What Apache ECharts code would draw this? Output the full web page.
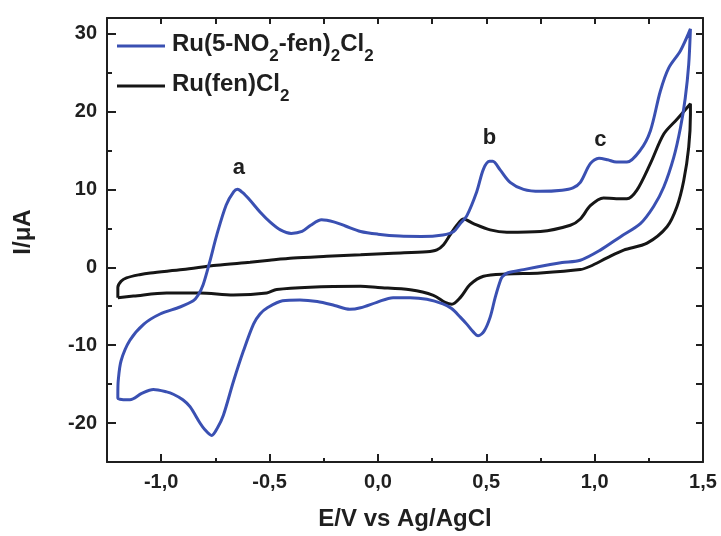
<!DOCTYPE html>
<html>
<head>
<meta charset="utf-8">
<script src="https://cdn.jsdelivr.net/npm/echarts@6/dist/echarts.min.js"></script>
<style>
  html, body { margin: 0; padding: 0; background: #fff; }
  #chart { width: 721px; height: 536px; }
</style>
</head>
<body>
<div id="chart"></div>
<script>
// Cyclic voltammograms: [E (V vs Ag/AgCl), I (µA)] in scan order
// (anodic sweep from -1.2 V to the vertex, then the cathodic return).
const nitroName = 'Ru(5-NO2-fen)2Cl2';
const nitroCurve = [
  [-1.200, -16.4], [-1.198, -14.5], [-1.185, -12.0], [-1.145, -9.4], [-1.080, -7.3],
  [-1.005, -6.0], [-0.913, -5.1], [-0.852, -4.3], [-0.830, -3.6], [-0.806, -2.2],
  [-0.775, 0.8], [-0.744, 4.1], [-0.700, 8.0], [-0.665, 9.7], [-0.648, 10.0],
  [-0.625, 9.6], [-0.590, 8.6], [-0.544, 7.1], [-0.497, 5.8], [-0.450, 4.8],
  [-0.400, 4.35], [-0.350, 4.6], [-0.310, 5.4], [-0.260, 6.1], [-0.200, 5.8],
  [-0.150, 5.3], [-0.080, 4.6], [0.000, 4.25], [0.100, 4.0], [0.200, 3.95],
  [0.300, 4.15], [0.350, 4.6], [0.380, 5.6], [0.410, 6.6], [0.456, 9.7],
  [0.487, 12.6], [0.515, 13.6], [0.530, 13.6], [0.564, 12.5], [0.610, 10.9],
  [0.672, 10.0], [0.750, 9.75], [0.850, 9.9], [0.900, 10.2], [0.934, 10.9],
  [0.980, 13.3], [1.020, 14.0], [1.060, 13.8], [1.100, 13.5], [1.149, 13.5],
  [1.210, 15.0], [1.257, 17.5], [1.303, 22.6], [1.342, 25.6], [1.396, 27.8],
  [1.442, 30.6],
  [1.434, 26.0], [1.418, 21.7], [1.396, 17.9], [1.365, 14.1], [1.319, 10.3],
  [1.272, 7.8], [1.211, 5.6], [1.118, 3.9], [1.026, 2.2], [0.934, 0.9],
  [0.850, 0.6], [0.795, 0.35], [0.672, -0.3], [0.600, -0.7], [0.575, -1.2],
  [0.564, -1.8], [0.541, -3.9], [0.518, -6.4], [0.490, -8.2], [0.462, -8.8],
  [0.440, -8.3], [0.410, -7.3], [0.380, -6.4], [0.340, -5.3], [0.300, -4.7],
  [0.226, -4.1], [0.149, -3.9], [0.070, -3.9], [-0.005, -4.5], [-0.080, -5.2],
  [-0.130, -5.4], [-0.200, -4.9], [-0.280, -4.4], [-0.360, -4.2], [-0.440, -4.3],
  [-0.510, -5.2], [-0.544, -6.0], [-0.574, -7.3], [-0.620, -10.7], [-0.667, -14.7],
  [-0.713, -19.0], [-0.740, -20.6], [-0.767, -21.6], [-0.800, -20.8], [-0.821, -20.0],
  [-0.867, -17.9], [-0.900, -17.0], [-0.944, -16.3], [-0.975, -16.0], [-1.036, -15.7],
  [-1.090, -16.2], [-1.144, -17.0], [-1.175, -17.0], [-1.200, -16.8], [-1.200, -16.4]
];

const parentName = 'Ru(fen)Cl2';
const parentCurve = [
  [-1.200, -3.9], [-1.200, -2.6], [-1.185, -1.8], [-1.160, -1.36], [-1.100, -0.95],
  [-1.050, -0.73], [-0.900, -0.3], [-0.744, 0.25], [-0.590, 0.64], [-0.500, 0.9],
  [-0.390, 1.18], [-0.236, 1.4], [-0.080, 1.6], [0.070, 1.8], [0.226, 2.0],
  [0.272, 2.24], [0.303, 2.9], [0.333, 4.15], [0.364, 5.4], [0.395, 6.2],
  [0.441, 5.6], [0.518, 4.8], [0.595, 4.5], [0.750, 4.6], [0.888, 5.4],
  [0.934, 6.2], [0.980, 7.9], [1.041, 8.9], [1.100, 8.8], [1.149, 8.8],
  [1.195, 9.9], [1.257, 13.3], [1.319, 17.1], [1.380, 19.0], [1.442, 21.0],
  [1.442, 19.6], [1.434, 15.4], [1.411, 11.1], [1.380, 7.8], [1.334, 5.2],
  [1.242, 3.1], [1.134, 2.2], [1.057, 1.2], [0.980, 0.13], [0.934, -0.3],
  [0.750, -0.73], [0.595, -0.86], [0.487, -1.15], [0.426, -2.2], [0.380, -3.9],
  [0.341, -4.75], [0.310, -4.5], [0.256, -3.6], [0.149, -2.9], [0.000, -2.6],
  [-0.080, -2.45], [-0.313, -2.55], [-0.467, -2.85], [-0.513, -3.3], [-0.667, -3.55],
  [-0.821, -3.3], [-0.975, -3.3], [-1.128, -3.7], [-1.200, -3.9]
];

// Peak letters: [label, E, I]
const peakLabels = [['a', -0.642, 12.8], ['b', 0.515, 16.6], ['c', 1.026, 16.4]];

// Axis ranges and tick positions
const xRange = [-1.25, 1.5];
const yRange = [-25, 32];
const xMajorTicks = [-1.0, -0.5, 0.0, 0.5, 1.0, 1.5];
const xMinorTicks = [-1.25, -1.0, -0.75, -0.5, -0.25, 0.0, 0.25, 0.5, 0.75, 1.0, 1.25, 1.5];
const yMajorTicks = [-20, -10, 0, 10, 20, 30];
const yMinorTicks = [-25, -20, -15, -10, -5, 0, 5, 10, 15, 20, 25, 30];

const FONT = '"Liberation Sans", Arial, sans-serif';
const INK = '#1f1f1f';
const BLUE = '#3a50b2';
const BLACK = '#161616';

function axisBase(kind, position, show) {
  const range = kind === 'x' ? xRange : yRange;
  return {
    type: 'value', min: range[0], max: range[1], position: position,
    splitLine: { show: false },
    axisLine: { show: show, onZero: false, lineStyle: { color: INK, width: 2 } },
    axisLabel: { show: false },
    axisTick: { show: false }
  };
}

const xAxes = [
  Object.assign(axisBase('x', 'bottom', true), {
    axisTick: { show: true, inside: true, length: 4, customValues: xMinorTicks, lineStyle: { color: INK, width: 2 } },
    axisLabel: {
      show: true, customValues: xMajorTicks, margin: 10,
      fontFamily: FONT, fontWeight: 'bold', fontSize: 20, color: INK,
      formatter: v => v.toFixed(1).replace('.', ',')
    },
    name: 'E/V vs Ag/AgCl', nameLocation: 'middle', nameGap: 45,
    nameTextStyle: { fontFamily: FONT, fontWeight: 'bold', fontSize: 24, color: INK }
  }),
  Object.assign(axisBase('x', 'bottom', false), {
    axisTick: { show: true, inside: true, length: 8, customValues: xMajorTicks, lineStyle: { color: INK, width: 2 } }
  }),
  Object.assign(axisBase('x', 'top', true), {
    axisTick: { show: true, inside: true, length: 6, customValues: xMinorTicks, lineStyle: { color: INK, width: 2 } }
  })
];

const yAxes = [
  Object.assign(axisBase('y', 'left', true), {
    axisTick: { show: true, inside: true, length: 5, customValues: yMinorTicks, lineStyle: { color: INK, width: 2 } },
    axisLabel: {
      show: true, customValues: yMajorTicks, margin: 10,
      fontFamily: FONT, fontWeight: 'bold', fontSize: 20, color: INK
    },
    name: 'I/\u03bcA', nameLocation: 'middle', nameGap: 72, nameRotate: 90,
    nameTextStyle: { fontFamily: FONT, fontWeight: 'bold', fontSize: 24, color: INK, padding: [0, 0, 0, 16] }
  }),
  Object.assign(axisBase('y', 'left', false), {
    axisTick: { show: true, inside: true, length: 9, customValues: yMajorTicks, lineStyle: { color: INK, width: 2 } }
  }),
  Object.assign(axisBase('y', 'right', true), {
    axisTick: { show: true, inside: true, length: 7, customValues: yMinorTicks, lineStyle: { color: INK, width: 2 } }
  })
];

const chart = echarts.init(document.getElementById('chart'), null, { renderer: 'canvas' });

chart.setOption({
  animation: false,
  backgroundColor: '#ffffff',
  grid: { left: 107, right: 18, top: 18, bottom: 73, containLabel: false },
  xAxis: xAxes,
  yAxis: yAxes,
  legend: {
    data: [nitroName, parentName],
    orient: 'vertical', left: 117, top: 32, padding: 0,
    icon: 'rect', itemWidth: 48, itemHeight: 3, itemGap: 7,
    formatter: name => name === nitroName
      ? '{m|Ru(5-NO}{s|2}{m|-fen)}{s|2}{m|Cl}{s|2}'
      : '{m|Ru(fen)Cl}{s|2}',
    textStyle: {
      fontFamily: FONT, fontWeight: 'bold', fontSize: 24, color: INK,
      padding: [0, 0, 0, 2],
      rich: {
        m: { fontFamily: FONT, fontWeight: 'bold', fontSize: 24, color: INK, verticalAlign: 'top', lineHeight: 28 },
        s: { fontFamily: FONT, fontWeight: 'bold', fontSize: 17, color: INK, verticalAlign: 'top', lineHeight: 14, padding: [16, 0, 0, 0] }
      }
    }
  },
  series: [
    {
      name: parentName, type: 'line', data: parentCurve,
      showSymbol: false, smooth: 0.3, clip: true,
      lineStyle: { color: BLACK, width: 3 }, itemStyle: { color: BLACK }, z: 2
    },
    {
      name: nitroName, type: 'line', data: nitroCurve,
      showSymbol: false, smooth: 0.3, clip: true,
      lineStyle: { color: BLUE, width: 3 }, itemStyle: { color: BLUE }, z: 3
    },
    {
      name: 'peaks', type: 'scatter', symbolSize: 0,
      itemStyle: { color: INK, opacity: 1 },
      data: peakLabels.map(p => ({ name: p[0], value: [p[1], p[2]] })),
      label: {
        show: true, position: 'inside', formatter: '{b}',
        fontFamily: FONT, fontWeight: 'bold', fontSize: 22, color: INK, opacity: 1
      },
      z: 4
    }
  ]
});
</script>
</body>
</html>
